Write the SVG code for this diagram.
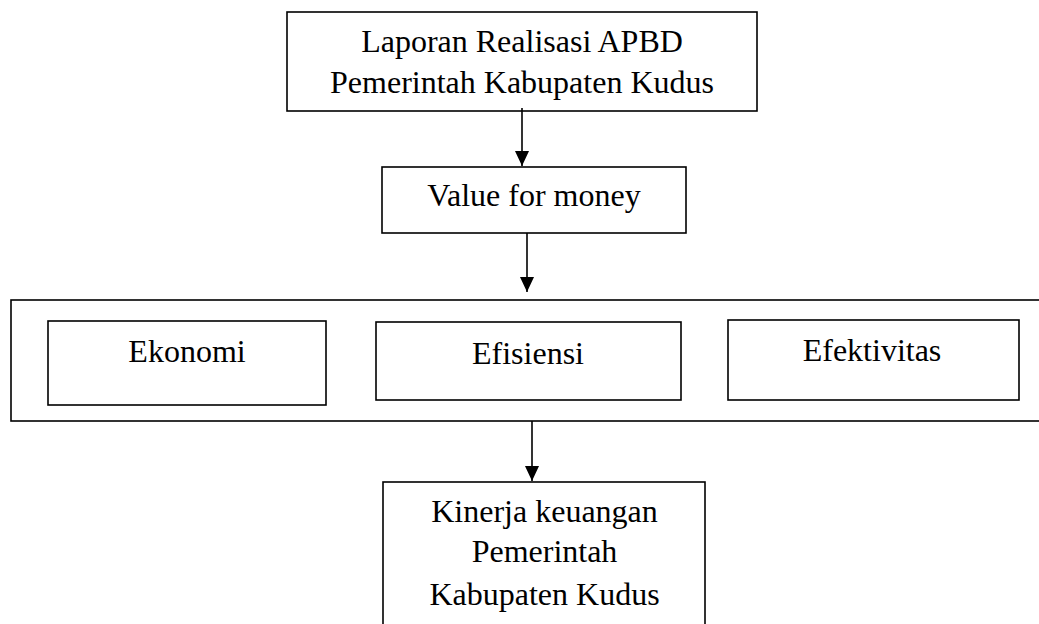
<svg xmlns="http://www.w3.org/2000/svg" width="1039" height="624" viewBox="0 0 1039 624">
<style>
.box{fill:#fff;stroke:#000;stroke-width:1.6}
.t{font-family:"Liberation Serif","Times New Roman",serif;font-size:32px;fill:#000;text-anchor:middle}
.c{stroke:#000;stroke-width:1.6;fill:none}
</style>
<defs>
<marker id="ah" markerUnits="userSpaceOnUse" markerWidth="16" markerHeight="14" refX="15" refY="7" orient="auto">
<path d="M0,0 L15,7 L0,14 Z" fill="#000"/>
</marker>
</defs>
<rect width="1039" height="624" fill="#fff"/>
<g id="laporan">
<rect class="box" x="287" y="12" width="470" height="99"/>
<text class="t" x="522" y="52">Laporan Realisasi APBD</text>
<text class="t" x="522" y="93">Pemerintah Kabupaten Kudus</text>
</g>
<g id="vfm">
<rect class="box" x="382" y="167" width="304" height="66"/>
<text class="t" x="534" y="206">Value for money</text>
</g>
<g id="group3e">
<rect class="box" x="11" y="300" width="1040" height="121"/>
</g>
<g id="ekonomi">
<rect class="box" x="48" y="321" width="278" height="84"/>
<text class="t" x="187" y="362">Ekonomi</text>
</g>
<g id="efisiensi">
<rect class="box" x="376" y="322" width="305" height="78"/>
<text class="t" x="528" y="364">Efisiensi</text>
</g>
<g id="efektivitas">
<rect class="box" x="728" y="320" width="291" height="80"/>
<text class="t" x="872" y="361">Efektivitas</text>
</g>
<g id="kinerja">
<rect class="box" x="383" y="482" width="322" height="160"/>
<text class="t" x="544.5" y="522">Kinerja keuangan</text>
<text class="t" x="544.5" y="562">Pemerintah</text>
<text class="t" x="544.5" y="605">Kabupaten Kudus</text>
</g>
<g id="connectors">
<line class="c" x1="522" y1="108" x2="522" y2="166" marker-end="url(#ah)"/>
<line class="c" x1="527" y1="233" x2="527" y2="292" marker-end="url(#ah)"/>
<line class="c" x1="532" y1="421" x2="532" y2="481" marker-end="url(#ah)"/>
</g>
</svg>
